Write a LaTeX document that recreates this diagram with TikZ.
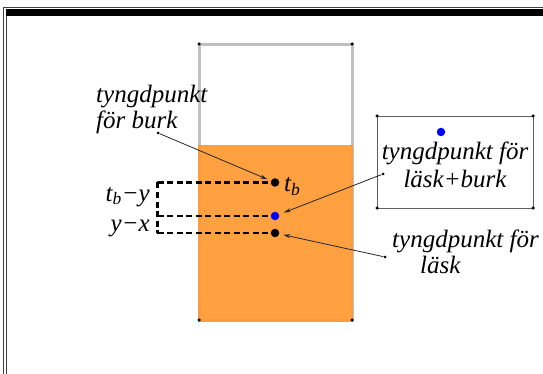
\documentclass[tikz,border=0pt]{standalone}
\usepackage{fontspec}
\setmainfont{Liberation Serif}
\usetikzlibrary{arrows.meta}
\definecolor{lask}{HTML}{FF9933}
\definecolor{cangray}{HTML}{C0C0C0}
\definecolor{framegray}{HTML}{404040}
\definecolor{boxgray}{HTML}{606060}
\tikzset{
 bigdot/.style={circle,fill=black,inner sep=0pt,minimum size=8.5pt},
 bluedot/.style={circle,fill=blue,inner sep=0pt,minimum size=8.5pt},
 cornerdot/.style={circle,fill=black,inner sep=0pt,minimum size=3.5pt},
 lbl/.style={font=\fontsize{25}{26}\selectfont\itshape, inner sep=0pt},
 pointer/.style={draw=black!85,line width=0.8pt,-{Stealth[length=7pt,width=4pt]}},
 dashline/.style={line width=2.1pt, dash pattern=on 6pt off 3.5pt},
}
\begin{document}
\begin{tikzpicture}[x=1pt,y=-1pt]
\useasboundingbox (0,0) rectangle (543,374);
% window frame
\draw[framegray, line width=1pt] (3.7,374) -- (3.7,7.5) -- (543,7.5);
\fill[black] (5.5,9) rectangle (543,16);
\draw[framegray, line width=1pt] (6,16) -- (6,374);
% container
\draw[cangray, line width=3pt] (199,44.5) rectangle (352,320);
\fill[lask, opacity=0.93] (197.5,145) rectangle (353,321.5);
\node[cornerdot] (k1) at (199,44) {};
\node[cornerdot] (k2) at (352,44) {};
\node[cornerdot] (k3) at (199,320) {};
\node[cornerdot] (k4) at (352,320) {};
% dashed construction
\node[cornerdot, minimum size=2.5pt] (c1) at (157.5,182.5) {};
\node[cornerdot, minimum size=2.5pt] (c2) at (157.5,216) {};
\node[cornerdot, minimum size=2.5pt] (c3) at (157.5,233) {};
\coordinate (p1) at (275,182.5);
\coordinate (p2) at (275,216);
\coordinate (p3) at (275,233);
\draw[dashline] (c1.center) -- (p1);
\draw[dashline] (c2.center) -- (p2);
\draw[dashline] (c3.center) -- (p3);
\draw[dashline] (c1.center) -- (c3.center);
\node[bigdot] (tb) at (p1) {};
\node[bluedot] (ty) at (p2) {};
\node[bigdot] (tx) at (p3) {};
\node[lbl, anchor=base west] (tblbl) at (284,192) {t\textsubscript{b}};
\node[lbl, anchor=base east] (d1) at (150,201) {t\textsubscript{b}−y};
\node[lbl, anchor=base east] (d2) at (150,231) {y−x};
% label: burk
\node[lbl, anchor=base west] (burk1) at (96,103) {tyngdpunkt};
\node[lbl, anchor=base west] (burk2) at (96,129) {för burk};
\node[cornerdot, minimum size=3pt] (s1) at (158,133) {};
\draw[pointer, shorten >=4pt] (s1) -- (tb);
% box: läsk+burk
\draw[boxgray, line width=0.8pt] (377,116) rectangle (533,208);
\node[cornerdot] (b1) at (377,116) {};
\node[cornerdot] (b2) at (533,116) {};
\node[cornerdot] (b3) at (377,208) {};
\node[cornerdot] (b4) at (533,208) {};
\node[bluedot] (bd) at (441,132) {};
\node[lbl, anchor=base] (lb1) at (455,160) {tyngdpunkt för};
\node[lbl, anchor=base] (lb2) at (455,188) {läsk+burk};
\node[cornerdot, minimum size=3pt] (s2) at (383,174) {};
\draw[pointer, shorten >=5pt] (s2) -- (ty);
% label: läsk
\node[lbl, anchor=base west] (l1) at (392,247) {tyngdpunkt för};
\node[lbl, anchor=base west] (l2) at (420,273) {läsk};
\node[cornerdot, minimum size=3pt] (s3) at (385,257) {};
\draw[pointer, shorten >=4pt] (s3) -- (tx);
\end{tikzpicture}
\end{document}
